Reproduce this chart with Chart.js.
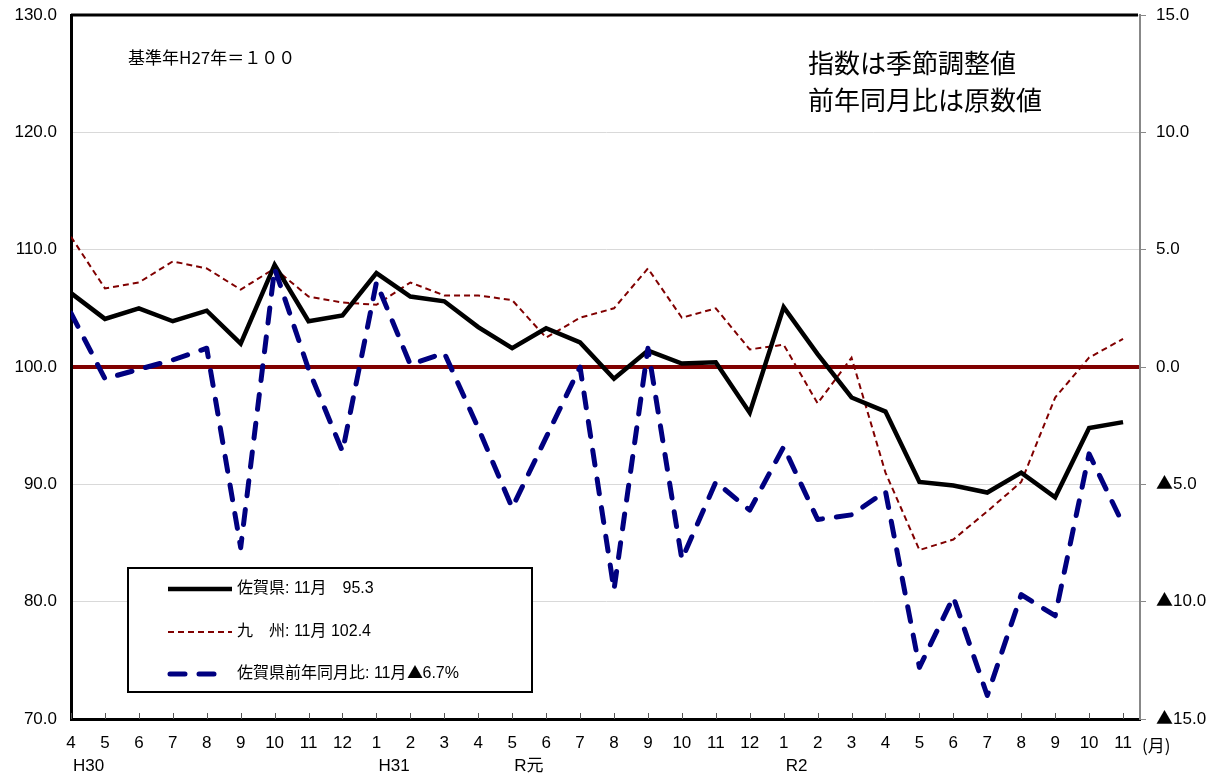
<!DOCTYPE html>
<html>
<head>
<meta charset="utf-8">
<script src="https://cdn.jsdelivr.net/npm/chart.js@4/dist/chart.umd.min.js"></script>
<style>
  html, body { margin: 0; padding: 0; background: #fff; }
  @font-face { font-family: 'Tri'; src: local('Noto Sans CJK JP'), local('NotoSansCJKjp-Regular'); unicode-range: U+25B2; }
</style>
</head>
<body>
<canvas id="myChart" width="1213" height="777"></canvas>
<script>
const months = ['4','5','6','7','8','9','10','11','12','1','2','3',
                '4','5','6','7','8','9','10','11','12','1','2','3',
                '4','5','6','7','8','9','10','11'];
const eras = ['H30','','','','','','','','','H31','','',
              '','R元','','','','','','','','R2','','',
              '','','','','','','',''];

// 佐賀県 index (seasonally adjusted, H27=100)
const sagaIndex = [106.3, 104.1, 105.0, 103.9, 104.8, 102.0, 108.7, 103.9, 104.4, 108.0, 106.0, 105.6,
                   103.4, 101.6, 103.3, 102.1, 99.0, 101.4, 100.3, 100.4, 96.1, 105.1, 101.1, 97.4,
                   96.2, 90.2, 89.9, 89.3, 91.0, 88.9, 94.8, 95.3];
// 九州 index
const kyushuIndex = [111.1, 106.7, 107.2, 109.0, 108.4, 106.6, 108.4, 106.0, 105.5, 105.3, 107.2, 106.1,
                     106.1, 105.7, 102.5, 104.2, 105.0, 108.4, 104.2, 105.0, 101.5, 101.9, 96.9, 100.8,
                     91.0, 84.4, 85.3, 87.7, 90.2, 97.4, 100.8, 102.4];
// 佐賀県 前年同月比 (%)
const sagaYoY = [2.3, -0.5, -0.1, 0.3, 0.8, -7.7, 4.2, -0.1, -3.6, 3.6, 0.1, 0.6,
                 -2.6, -6.0, -3.0, 0.0, -9.5, 0.8, -8.2, -4.9, -6.1, -3.4, -6.5, -6.3,
                 -5.3, -12.8, -9.8, -14.0, -9.7, -10.6, -3.7, -6.7];

const legendLabels = ['佐賀県: 11月　95.3', '九　州: 11月 102.4', '佐賀県前年同月比: 11月▲6.7%'];

const numFont = "Tri, 'Liberation Sans', Arial, 'Noto Sans CJK JP', sans-serif";
const jpFont = "'Noto Sans CJK JP', 'Liberation Sans', sans-serif";

const decor = {
  id: 'decor',
  afterDatasetsDraw(chart) {
    const c = chart.ctx;
    const a = chart.chartArea;
    const xs = chart.scales.x;
    c.save();
    // top frame
    c.strokeStyle = '#000';
    c.lineWidth = 3;
    c.beginPath();
    c.moveTo(a.left, a.top);
    c.lineTo(a.right - 2, a.top);
    c.stroke();
    // inward month ticks
    c.strokeStyle = '#555';
    c.lineWidth = 1;
    months.forEach((m, i) => {
      const x = Math.round(xs.getPixelForValue(i)) + 0.5;
      c.beginPath();
      c.moveTo(x, a.bottom - 6);
      c.lineTo(x, a.bottom);
      c.stroke();
    });
    // era labels
    c.fillStyle = '#000';
    c.font = '17px ' + numFont;
    c.textAlign = 'left';
    c.textBaseline = 'middle';
    eras.forEach((e, i) => {
      if (e) c.fillText(e, xs.getPixelForValue(i) + 2, a.bottom + 47);
    });
    c.font = '17px ' + jpFont;
    c.fillText('(月)', a.right + 2, a.bottom + 27);

    // notes
    c.font = '17px ' + jpFont;
    c.fillText('基準年H27年＝１００', 128, 58);
    c.font = '26px ' + jpFont;
    c.fillText('指数は季節調整値', 808, 63);
    c.fillText('前年同月比は原数値', 808, 100);

    // legend box
    c.fillStyle = '#fff';
    c.fillRect(128, 568, 404, 124);
    c.strokeStyle = '#000';
    c.lineWidth = 2;
    c.strokeRect(128, 568, 404, 124);
    const rowsY = [589, 632, 674];
    chart.data.datasets.forEach((ds, i) => {
      const y = rowsY[i];
      c.strokeStyle = ds.borderColor;
      c.lineWidth = ds.borderWidth;
      c.lineCap = ds.borderCapStyle || 'butt';
      c.setLineDash(ds.borderDash || []);
      c.beginPath();
      c.moveTo(i === 2 ? 170 : 168, y);
      c.lineTo(i === 2 ? 220 : 232, y);
      c.stroke();
      c.setLineDash([]);
      c.lineCap = 'butt';
      c.fillStyle = '#000';
      c.font = '16px ' + numFont;
      c.fillText(ds.label, 237, y);
    });
    c.restore();
  }
};

const ctx = document.getElementById('myChart');

function drawChart() {
  new Chart(ctx, {
    type: 'line',
    data: {
      datasets: [
        {
          label: legendLabels[0],
          data: sagaIndex.map((v, i) => ({x: i, y: v})),
          borderColor: '#000000',
          borderWidth: 4.5,
          yAxisID: 'y',
          order: 2
        }, {
          label: legendLabels[1],
          data: kyushuIndex.map((v, i) => ({x: i, y: v})),
          borderColor: '#800000',
          borderWidth: 2,
          borderDash: [6, 4],
          yAxisID: 'y',
          order: 3
        }, {
          label: legendLabels[2],
          data: sagaYoY.map((v, i) => ({x: i, y: v})),
          borderColor: '#000080',
          borderWidth: 5,
          borderDash: [15, 14],
          borderCapStyle: 'round',
          borderJoinStyle: 'round',
          yAxisID: 'y2',
          order: 1
        }
      ]
    },
    options: {
      responsive: false,
      animation: false,
      devicePixelRatio: 1,
      layout: { padding: { top: 15 } },
      elements: { point: { radius: 0 }, line: { tension: 0 } },
      plugins: { legend: { display: false }, tooltip: { enabled: false } },
      scales: {
        x: {
          type: 'linear',
          min: 0,
          max: 31.5,
          afterBuildTicks: s => { s.ticks = months.map((m, i) => ({value: i})); },
          afterFit: s => { s.height = 58; s.paddingLeft = 0; s.paddingRight = 0; },
          ticks: {
            callback: v => months[v],
            color: '#000',
            font: { size: 17, family: numFont },
            padding: 14,
            maxRotation: 0,
            autoSkip: false
          },
          grid: { display: false, drawTicks: false },
          border: { display: true, color: '#000', width: 3 }
        },
        y: {
          position: 'left',
          min: 70,
          max: 130,
          afterFit: s => { s.width = 71; s.paddingTop = 0; s.paddingBottom = 0; },
          ticks: {
            stepSize: 10,
            callback: v => v.toFixed(1),
            color: '#000',
            font: { size: 17, family: numFont },
            padding: 14
          },
          grid: {
            drawTicks: false,
            color: c => c.tick && c.tick.value === 100 ? '#800000' : '#d9d9d9',
            lineWidth: c => c.tick && c.tick.value === 100 ? 4 : 1
          },
          border: { display: true, color: '#000', width: 3 }
        },
        y2: {
          position: 'right',
          min: -15,
          max: 15,
          afterFit: s => { s.width = 73; s.paddingTop = 0; s.paddingBottom = 0; },
          ticks: {
            stepSize: 5,
            callback: v => v < 0 ? '▲' + (-v).toFixed(1) : v.toFixed(1),
            color: '#000',
            font: { size: 17, family: numFont },
            padding: 10
          },
          grid: { drawOnChartArea: false, drawTicks: true, tickLength: 6, color: '#888' },
          border: { display: true, color: '#888', width: 2 }
        }
      }
    },
    plugins: [decor]
  });
}

document.fonts.load('17px Tri', '▲').catch(() => {}).finally(drawChart);
</script>
</body>
</html>
